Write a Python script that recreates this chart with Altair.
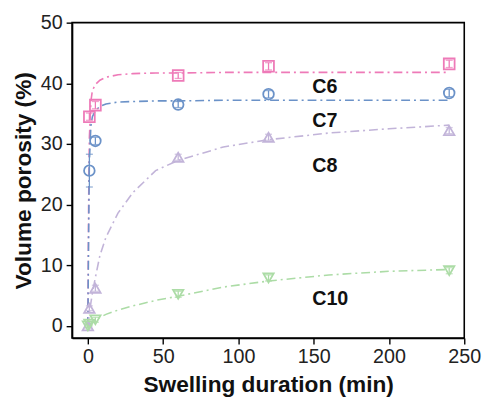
import altair as alt
import pandas as pd

series = ["C6", "C7", "C8", "C10"]
colors = ["#ee6cb2", "#5b88c6", "#b9a6da", "#9cd994"]
line_colors = ["#ee7ab8", "#6b92c8", "#c2b4d9", "#acdca6"]
shapes = ["square", "circle", "triangle-up", "triangle-down"]

t_c6 = [1, 5, 60, 120, 240]
v_c6 = [34.5, 36.4, 41.3, 42.8, 43.2]
e_c6 = [0.6, 0.6, 0.5, 0.6, 0.6]

t_c7 = [1, 5, 60, 120, 240]
v_c7 = [25.6, 30.5, 36.5, 38.2, 38.4]
e_c7 = [2.7, 0.6, 0.5, 0.6, 0.6]

t_c8 = [0, 1, 5, 60, 120, 240]
v_c8 = [0.0, 2.9, 6.2, 27.8, 31.1, 32.2]
e_c8 = [0.3, 0.4, 0.5, 0.5, 0.5, 0.5]

t_c10 = [0, 1, 5, 60, 120, 240]
v_c10 = [0.0, 0.3, 1.0, 5.2, 7.9, 9.1]
e_c10 = [0.3, 0.3, 0.4, 0.5, 0.5, 0.5]

# fitted curves
fit_t = [0, 0.5, 1, 2, 3, 5, 8, 12, 20, 30, 45, 60, 90, 120, 160, 200, 240]
fit_c6 = [0, 20, 31, 37, 38.8, 39.8, 40.5, 41.0, 41.4, 41.6, 41.7, 41.7, 41.8, 41.8, 41.8, 41.8, 41.8]
fit_c7 = [0, 15, 27, 33, 34.5, 35.5, 36.2, 36.6, 36.9, 37.0, 37.1, 37.1, 37.2, 37.2, 37.2, 37.2, 37.2]
fit_c8 = [0, 1.0, 2.0, 3.8, 5.4, 8.0, 11.6, 14.6, 18.6, 22.0, 25.6, 27.3, 29.5, 30.7, 31.8, 32.5, 33.1]
fit_c10 = [0, 0.1, 0.2, 0.4, 0.6, 1.0, 1.4, 1.9, 2.6, 3.3, 4.2, 4.9, 6.4, 7.4, 8.4, 9.0, 9.3]

label_text = ["C6", "C7", "C8", "C10"]
label_x = [149, 149, 149, 149]
label_y = [39.4, 33.7, 26.3, 4.5]

# ---- tables ----
pts = []
for s, ts, vs, es in [("C6", t_c6, v_c6, e_c6), ("C7", t_c7, v_c7, e_c7),
                      ("C8", t_c8, v_c8, e_c8), ("C10", t_c10, v_c10, e_c10)]:
    for t, v, e in zip(ts, vs, es):
        pts.append({"series": s, "t": t, "v": v, "lo": v - e, "hi": v + e})
pts = pd.DataFrame(pts)

fits = []
for s, vs in [("C6", fit_c6), ("C7", fit_c7), ("C8", fit_c8), ("C10", fit_c10)]:
    for t, v in zip(fit_t, vs):
        fits.append({"series": s, "t": t, "v": v})
fits = pd.DataFrame(fits)

labels = pd.DataFrame({"text": label_text, "x": label_x, "y": label_y})

FONT = "Liberation Sans"
xscale = alt.Scale(domain=[-10.5, 250], nice=False, zero=False)
yscale = alt.Scale(domain=[-2, 50], nice=False, zero=False)
col_scale = alt.Scale(domain=series, range=colors)
line_scale = alt.Scale(domain=series, range=line_colors)

xaxis = alt.Axis(
    title="Swelling duration (min)", values=list(range(0, 251, 25)),
    labelExpr="datum.value % 50 === 0 ? datum.label : ''",
    tickSize={"condition": {"test": "datum.value % 50 === 0", "value": 6}, "value": 3},
    grid=False, labelFontSize=20, titleFontSize=23, titleFontWeight="bold",
    labelPadding=3, titlePadding=7, labelFont=FONT, titleFont=FONT,
    labelColor="#222", titleColor="#111", domainColor="black", tickColor="black",
    domainWidth=1.6, tickWidth=1.4, labelOverlap=False, labelFlush=False,
)
yaxis = alt.Axis(
    title="Volume porosity (%)", values=list(range(0, 51, 5)),
    labelExpr="datum.value % 10 === 0 ? datum.label : ''",
    tickSize={"condition": {"test": "datum.value % 10 === 0", "value": 6}, "value": 3},
    grid=False, labelFontSize=20, titleFontSize=23, titleFontWeight="bold",
    labelPadding=4, titlePadding=5, labelFont=FONT, titleFont=FONT,
    labelColor="#222", titleColor="#111", domainColor="black", tickColor="black",
    domainWidth=1.6, tickWidth=1.4, labelOverlap=False, labelFlush=False,
)

base_fit = alt.Chart(fits)
fit_lines = base_fit.mark_line(strokeWidth=1.6, strokeDash=[9, 4, 2, 4]).encode(
    x=alt.X("t:Q", scale=xscale, axis=xaxis),
    y=alt.Y("v:Q", scale=yscale, axis=yaxis),
    color=alt.Color("series:N", scale=line_scale, legend=None),
    detail="series:N",
)

base = alt.Chart(pts)
err = base.mark_rule(strokeWidth=1.3).encode(
    x="t:Q", y="lo:Q", y2="hi:Q",
    color=alt.Color("series:N", scale=col_scale, legend=None),
)
cap_lo = base.mark_point(shape="M-1,0L1,0", strokeWidth=1.3, size=50, filled=False).encode(
    x="t:Q", y="lo:Q", color=alt.Color("series:N", scale=col_scale, legend=None))
cap_hi = base.mark_point(shape="M-1,0L1,0", strokeWidth=1.3, size=50, filled=False).encode(
    x="t:Q", y="hi:Q", color=alt.Color("series:N", scale=col_scale, legend=None))
markers = base.mark_point(filled=False, strokeWidth=1.8, opacity=1).encode(
    x="t:Q", y="v:Q",
    color=alt.Color("series:N", scale=col_scale, legend=None),
    shape=alt.Shape("series:N", scale=alt.Scale(domain=series, range=shapes), legend=None),
    size=alt.Size("series:N", scale=alt.Scale(domain=series, range=[120, 110, 150, 150]), legend=None),
)

text = alt.Chart(labels).mark_text(
    align="left", baseline="middle", fontSize=20, fontWeight="bold", font=FONT, color="#111"
).encode(x="x:Q", y="y:Q", text="text:N")

chart = alt.layer(fit_lines, err, cap_lo, cap_hi, markers, text).properties(
    width=398, height=320,
    autosize=alt.AutoSizeParams(type="none"),
    padding={"left": 65, "top": 12, "right": 18, "bottom": 58},
    background="white",
).configure_view(stroke="black", strokeWidth=1.6)

chart.save("out.html", embed_options={"renderer": "svg", "actions": False})
